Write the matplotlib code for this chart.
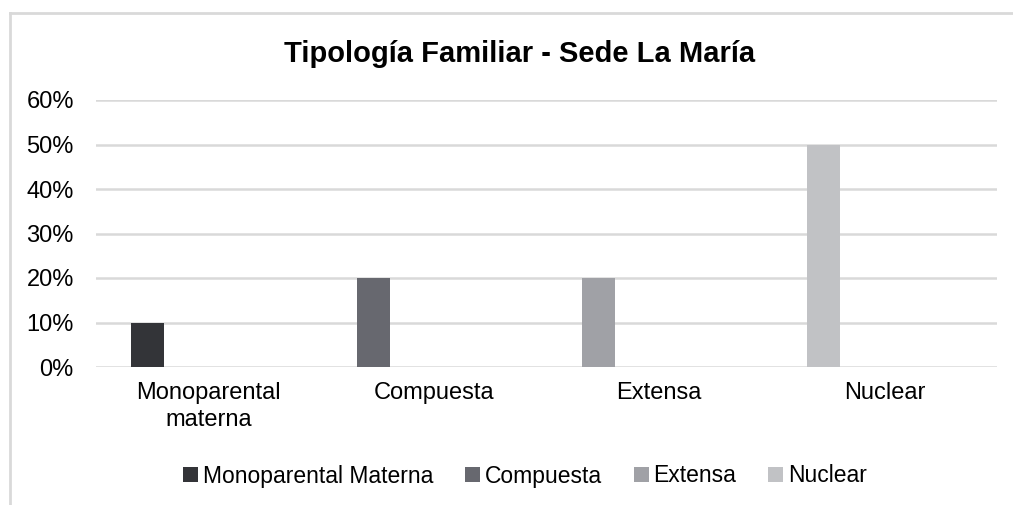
import matplotlib.pyplot as plt
from matplotlib.lines import Line2D
from matplotlib.patches import Patch

categories = ["Monoparental\nmaterna", "Compuesta", "Extensa", "Nuclear"]
series = ["Monoparental Materna", "Compuesta", "Extensa", "Nuclear"]
values = [0.10, 0.20, 0.20, 0.50]
colors = ["#333438", "#67686f", "#a0a1a6", "#c1c2c5"]
yticks = [0, 0.1, 0.2, 0.3, 0.4, 0.5, 0.6]
ytick_labels = ["0%", "10%", "20%", "30%", "40%", "50%", "60%"]

plt.rcParams['font.family'] = ['Liberation Sans', 'DejaVu Sans']

fig = plt.figure(figsize=(10.13, 5.05), dpi=100)
ax = fig.add_axes([96 / 1013, 1 - 367 / 505, 901 / 1013, 267 / 505])

x = list(range(len(categories)))
ax.bar([i - 0.27 for i in x], values, width=0.147, color=colors, zorder=3)

ax.set_xlim(-0.5, len(categories) - 0.5)
ax.set_ylim(0, 0.6)
ax.set_yticks(yticks)
ax.set_yticklabels(ytick_labels, fontsize=17)
ax.set_xticks(x)
ax.set_xticklabels(categories, fontsize=17, linespacing=1.25)
ax.tick_params(axis='both', length=0)
ax.tick_params(axis='y', pad=16)
ax.tick_params(axis='x', pad=11)
ax.yaxis.grid(True, color="#d9d9d9", linewidth=1.8, zorder=0)
for s in ax.spines.values():
    s.set_visible(False)

fig.text(520 / 1013, 1 - 54 / 505, "Tipología Familiar - Sede La María",
         fontsize=21, fontweight='bold', ha='center', va='center')

handles = [Patch(facecolor=c) for c in colors]
leg = fig.legend(handles, series, loc='center', bbox_to_anchor=(525 / 1013, 1 - 476 / 505),
                 ncol=4, frameon=False, handlelength=0.65, handleheight=0.65,
                 handletextpad=0.2, columnspacing=1.4, fontsize=16.5)

# chart frame (only top and left edges are visible in the crop)
fig.add_artist(Line2D([10 / 1013, 10 / 1013], [0, 1 - 13 / 505], transform=fig.transFigure,
                      color="#d9d9d9", linewidth=2))
fig.add_artist(Line2D([10 / 1013, 1], [1 - 13 / 505, 1 - 13 / 505], transform=fig.transFigure,
                      color="#d9d9d9", linewidth=2))

fig.savefig("out.png", dpi=100)
